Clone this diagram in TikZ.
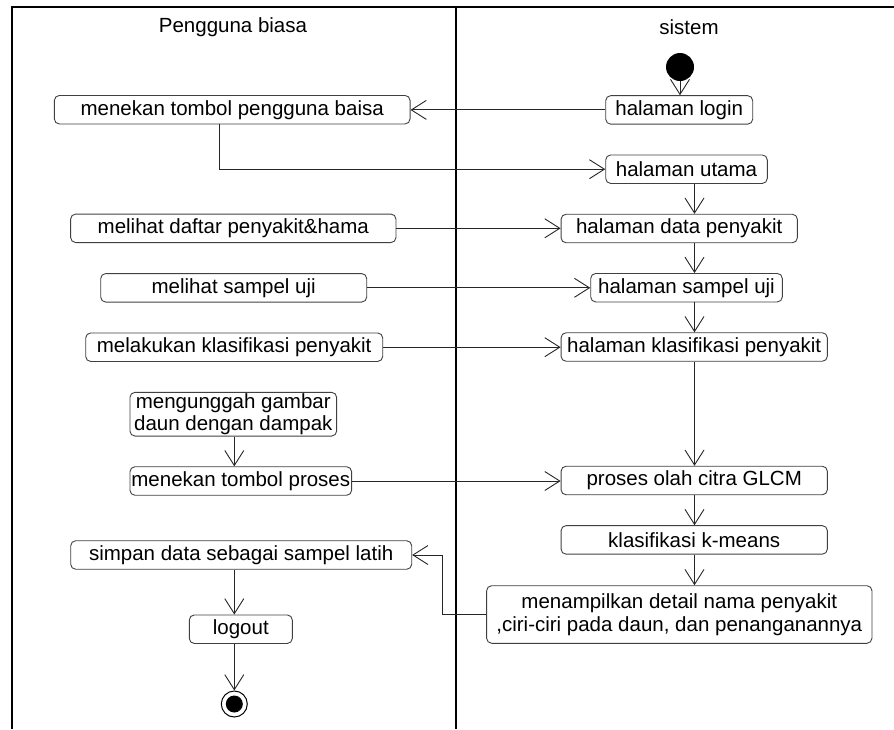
\documentclass[tikz,border=0pt]{standalone}
\usepackage{fontspec}
\setmainfont{Liberation Sans}
\usetikzlibrary{arrows.meta}
\tikzset{
  act/.style={draw=black!75, line width=0.9pt, rounded corners=5pt, inner sep=0pt,
    minimum height=28.5pt, font=\fontsize{20.5}{22}\selectfont, align=center},
  flow/.style={draw=black!85, line width=0.9pt, -{Straight Barb[length=15pt,width=19pt]}},
  lane/.style={draw=black, line width=2pt},
  head/.style={font=\fontsize{20.5}{22}\selectfont, inner sep=0pt},
}
\begin{document}
\begin{tikzpicture}[x=1pt,y=-1pt]
\useasboundingbox (0,0) rectangle (894,729);
% swimlane frame
\draw[lane] (11.5,729) -- (11.5,6.5) -- (894,6.5);
\draw[lane] (456,6.5) -- (456,729);
\node[head] (h1) at (233,27) {Pengguna biasa};
\node[head] (h2) at (689,27) {sistem};
% column coordinates
\coordinate (rc) at (694.5,0);
\coordinate (k1) at (219.3,169.2);
\coordinate (k2) at (442.5,585);
% start / end
\node[circle, fill=black, minimum size=28pt, inner sep=0pt] (start) at (680,67) {};
\node[circle, draw=black, line width=1pt, minimum size=26pt, inner sep=0pt] (end) at (234.3,704) {};
\node[circle, fill=black, minimum size=17pt, inner sep=0pt] (endin) at (end) {};
% system lane
\node[act, minimum width=147pt] (login) at (679.2,109.9) {halaman login};
\node[act, minimum width=161.6pt] (utama) at (686.5,169.2) {halaman utama};
\node[act, minimum width=236.3pt] (data) at (679.2,228.5) {halaman data penyakit};
\node[act, minimum width=191.6pt] (sampelsys) at (686.5,287.7) {halaman sampel uji};
\node[act, minimum width=266.3pt] (klassys) at (694.2,347) {halaman klasifikasi penyakit};
\node[act, minimum width=266.3pt] (glcm) at (694.2,480.5) {proses olah citra GLCM};
\node[act, minimum width=266.3pt] (kmeans) at (694.2,539.9) {klasifikasi k-means};
\node[act, minimum width=385.3pt, minimum height=57.6pt, font=\fontsize{20.5}{23}\selectfont] (menampilkan) at (679.3,614.5)
  {menampilkan detail nama penyakit\\,ciri-ciri pada daun, dan penanganannya};
% user lane
\node[act, minimum width=355.7pt] (tombolpb) at (232.2,109.7) {menekan tombol pengguna baisa};
\node[act, minimum width=325.3pt] (daftar) at (233.3,228.3) {melihat daftar penyakit\&hama};
\node[act, minimum width=266pt] (sampel) at (233.7,287.8) {melihat sampel uji};
\node[act, minimum width=297pt] (klasifikasi) at (234.2,347.2) {melakukan klasifikasi penyakit};
\node[act, minimum width=206.7pt, minimum height=43.7pt, font=\fontsize{20.5}{21.5}\selectfont] (mengunggah) at (233.3,414.2)
  {mengunggah gambar\\daun dengan dampak};
\node[act, minimum width=221.7pt] (proses) at (240.8,481) {menekan tombol proses};
\node[act, minimum width=341pt] (simpan) at (241.2,555) {simpan data sebagai sampel latih};
\node[act, minimum width=103pt] (logout) at (240.8,629.2) {logout};
% connectors
\draw[flow] (start.south) -- (login.north -| start);
\draw[flow] (login.west) -- (login.west -| tombolpb.east);
\draw[flow] (tombolpb.south -| k1) -- (k1) -- (utama.west);
\draw[flow] (utama.south -| rc) -- (data.north -| rc);
\draw[flow] (data.south -| rc) -- (sampelsys.north -| rc);
\draw[flow] (sampelsys.south -| rc) -- (klassys.north -| rc);
\draw[flow] (klassys.south -| rc) -- (glcm.north -| rc);
\draw[flow] (glcm.south -| rc) -- (kmeans.north -| rc);
\draw[flow] (kmeans.south -| rc) -- (menampilkan.north -| rc);
\draw[flow] (daftar.east) -- (daftar.east -| data.west);
\draw[flow] (sampel.east) -- (sampel.east -| sampelsys.west);
\draw[flow] (klasifikasi.east) -- (klasifikasi.east -| klassys.west);
\draw[flow] (mengunggah.south -| end) -- (proses.north -| end);
\draw[flow] (proses.east) -- (proses.east -| glcm.west);
\draw[flow] (menampilkan.west) -| (k2) |- (simpan.east);
\draw[flow] (simpan.south -| end) -- (logout.north -| end);
\draw[flow] (logout.south -| end) -- (end);
\end{tikzpicture}
\end{document}
